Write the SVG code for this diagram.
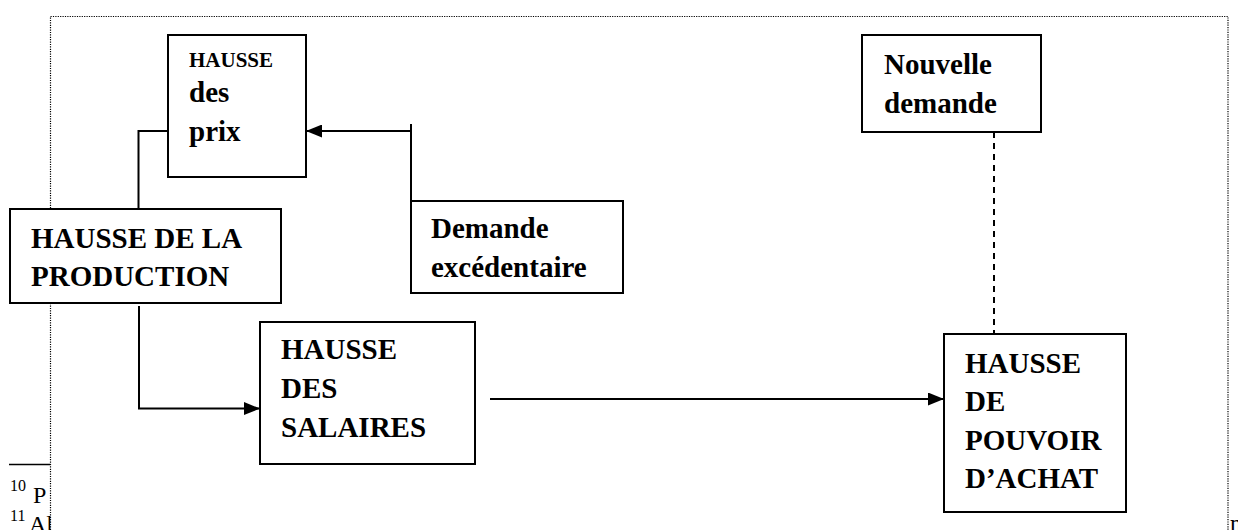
<svg xmlns="http://www.w3.org/2000/svg" width="1238" height="530" viewBox="0 0 1238 530">
<style>
.box{fill:#fff;stroke:#000;stroke-width:2}
.t{font-family:"Liberation Serif","Times New Roman",serif;font-weight:bold;font-size:29px;fill:#000}
.ts{font-family:"Liberation Serif","Times New Roman",serif;font-weight:bold;font-size:21px;fill:#000}
.fn{font-family:"Liberation Serif","Times New Roman",serif;font-size:24px;fill:#000}
.sup{font-family:"Liberation Serif","Times New Roman",serif;font-size:16px;fill:#000}
.c{fill:none;stroke:#000;stroke-width:2}
</style>
<defs>
<marker id="arr" viewBox="0 0 16 13" refX="16" refY="6.5" markerWidth="16" markerHeight="13" orient="auto" markerUnits="userSpaceOnUse">
<path d="M0,0 L16,6.5 L0,13 z" fill="#000"/>
</marker>
</defs>
<rect width="1238" height="530" fill="#fff"/>
<g id="footnotes">
<line x1="9" y1="464.5" x2="52" y2="464.5" stroke="#000" stroke-width="1.5"/>
<text class="sup" x="10" y="491">10</text>
<text class="fn" x="33" y="503">P</text>
<text class="sup" x="10" y="521">11</text>
<text class="fn" x="29" y="532">Al</text>
<text class="fn" x="1230" y="531">n</text>
</g>
<rect id="frame" x="50.5" y="16.5" width="1177.5" height="530" fill="#fff" stroke="#000" stroke-width="1.2" stroke-dasharray="1.2 1.2"/>
<g id="connectors">
<path class="c" d="M168,131 H138.5 V209"/>
<path class="c" d="M411,201 V124"/>
<path class="c" d="M411,131 H306" marker-end="url(#arr)"/>
<path class="c" d="M139,306 V408.5 H260" marker-end="url(#arr)"/>
<path class="c" d="M490,399 H944" marker-end="url(#arr)"/>
<path class="c" d="M994,132 V334" stroke-dasharray="6 5"/>
</g>
<g id="hausse-prix">
<rect class="box" x="168" y="35" width="138" height="142"/>
<text class="ts" x="189" y="67">HAUSSE</text>
<text class="t" x="189" y="102">des</text>
<text class="t" x="189" y="141">prix</text>
</g>
<g id="hausse-production">
<rect class="box" x="10" y="209" width="271" height="94"/>
<text class="t" x="31" y="248">HAUSSE DE LA</text>
<text class="t" x="31" y="286">PRODUCTION</text>
</g>
<g id="demande-excedentaire">
<rect class="box" x="411" y="201" width="212" height="92"/>
<text class="t" x="431" y="238">Demande</text>
<text class="t" x="431" y="277">excédentaire</text>
</g>
<g id="nouvelle-demande">
<rect class="box" x="862" y="35" width="179" height="97"/>
<text class="t" x="884" y="74">Nouvelle</text>
<text class="t" x="884" y="113">demande</text>
</g>
<g id="hausse-salaires">
<rect class="box" x="260" y="322" width="215" height="142"/>
<text class="t" x="281" y="359">HAUSSE</text>
<text class="t" x="281" y="398">DES</text>
<text class="t" x="281" y="437">SALAIRES</text>
</g>
<g id="hausse-pouvoir">
<rect class="box" x="944" y="334" width="182" height="178"/>
<text class="t" x="965" y="373">HAUSSE</text>
<text class="t" x="965" y="411">DE</text>
<text class="t" x="965" y="450">POUVOIR</text>
<text class="t" x="965" y="488">D’ACHAT</text>
</g>
</svg>
